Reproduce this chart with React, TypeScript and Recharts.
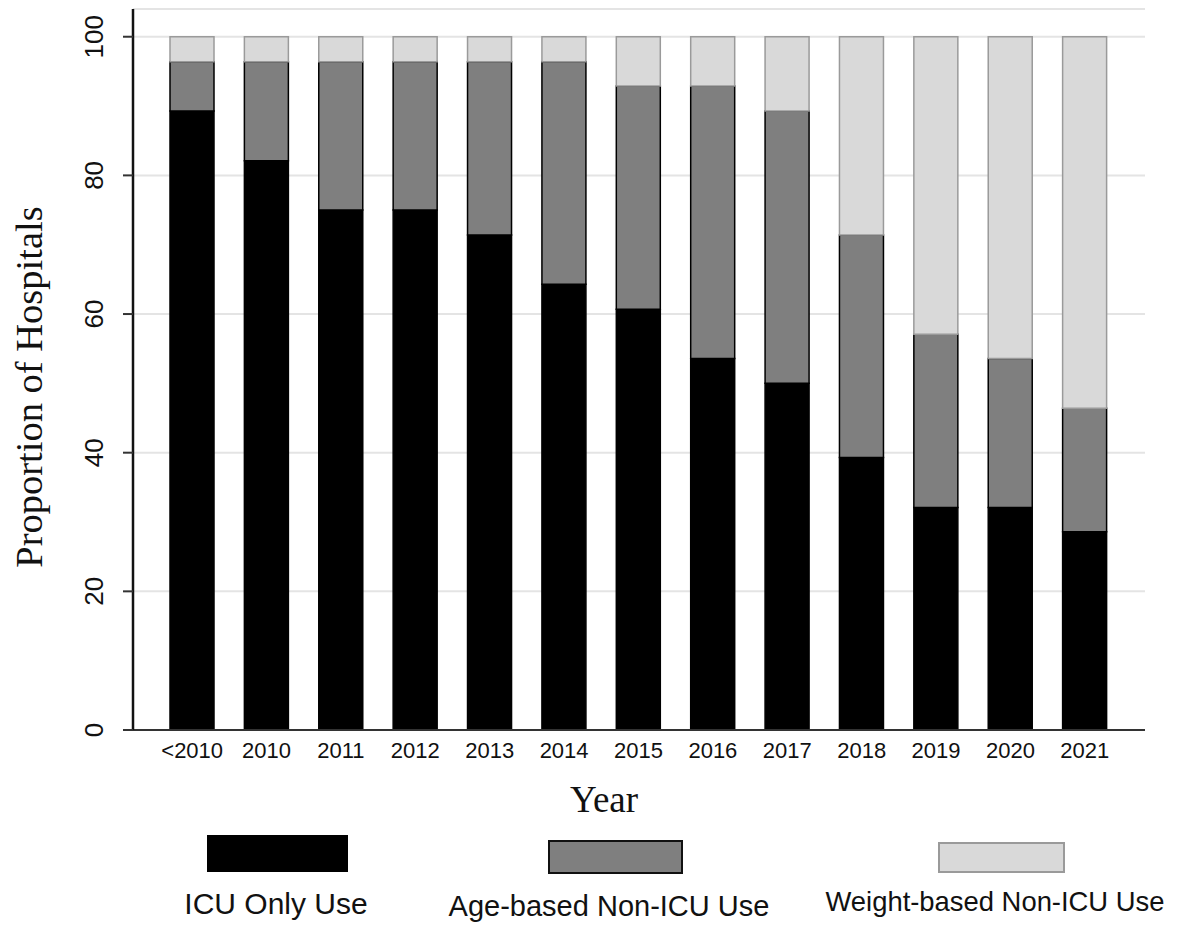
import { Bar, BarChart, CartesianGrid, Label, XAxis, YAxis } from "recharts";

const years = ["<2010", "2010", "2011", "2012", "2013", "2014", "2015", "2016", "2017", "2018", "2019", "2020", "2021"];
const icuOnly = [89.3, 82.1, 75.0, 75.0, 71.4, 64.3, 60.7, 53.6, 50.0, 39.3, 32.1, 32.1, 28.6];
const ageBased = [7.1, 14.3, 21.4, 21.4, 25.0, 32.1, 32.2, 39.3, 39.3, 32.1, 25.0, 21.5, 17.8];
const weightBased = [3.6, 3.6, 3.6, 3.6, 3.6, 3.6, 7.1, 7.1, 10.7, 28.6, 42.9, 46.4, 53.6];
const yTicks = [0, 20, 40, 60, 80, 100];
const seriesNames = ["ICU Only Use", "Age-based Non-ICU Use", "Weight-based Non-ICU Use"];

const data = years.map((year, i) => ({
  year,
  icu: icuOnly[i],
  age: ageBased[i],
  weight: weightBased[i]
}));

const SANS = "'Liberation Sans', Arial, sans-serif";
const SERIF = "'Liberation Serif', 'Times New Roman', serif";

const legendBoxes = [
  { left: 207, top: 835, width: 141, height: 37, fill: "#000000", stroke: "#000000", textX: 276, textTop: 889, fontSize: 30 },
  { left: 548, top: 840, width: 135, height: 34, fill: "#7f7f7f", stroke: "#111111", textX: 609, textTop: 892, fontSize: 29 },
  { left: 938, top: 842, width: 127, height: 31, fill: "#d9d9d9", stroke: "#9a9a9a", textX: 995, textTop: 888, fontSize: 27.4 }
];

function YTick({ y, payload }: any) {
  const cx = 94;
  return (
    <text
      x={cx}
      y={y}
      transform={`rotate(-90 ${cx} ${y})`}
      textAnchor="middle"
      dominantBaseline="central"
      fontFamily={SANS}
      fontSize={26}
      fill="#111"
    >
      {payload.value}
    </text>
  );
}

function XTick({ x, payload }: any) {
  return (
    <text x={x} y={758} textAnchor="middle" fontFamily={SANS} fontSize={22} fill="#111">
      {payload.value}
    </text>
  );
}

export default function App() {
  return (
    <div style={{ position: "absolute", left: 0, top: 0, width: 1180, height: 927, background: "#fff" }}>
      <BarChart
        width={1180}
        height={927}
        data={data}
        margin={{ top: 9, right: 35, bottom: 167, left: 73 }}
        barSize={44}
      >
        <CartesianGrid vertical={false} stroke="#e4e4e4" strokeWidth={2} />
        <XAxis
          dataKey="year"
          padding={{ left: 22, right: 23 }}
          height={30}
          tickLine={false}
          tickSize={0}
          tick={<XTick />}
          axisLine={{ stroke: "#333", strokeWidth: 2 }}
          interval={0}
        >
          <Label
            content={() => (
              <text x={604} y={812} textAnchor="middle" fontFamily={SERIF} fontSize={37} fill="#111">
                Year
              </text>
            )}
          />
        </XAxis>
        <XAxis
          xAxisId="top"
          dataKey="year"
          orientation="top"
          height={0}
          tick={false}
          tickLine={false}
          axisLine={{ stroke: "#111", strokeWidth: 2.5 }}
        />
        <YAxis
          domain={[0, 104]}
          ticks={yTicks}
          width={60}
          tickSize={10}
          tickLine={{ stroke: "#333", strokeWidth: 2 }}
          tick={<YTick />}
          axisLine={{ stroke: "#111", strokeWidth: 2.5 }}
        >
          <Label
            content={() => (
              <text
                x={29}
                y={387}
                transform="rotate(-90 29 387)"
                textAnchor="middle"
                dominantBaseline="central"
                fontFamily={SERIF}
                fontSize={38.5}
                fill="#111"
              >
                Proportion of Hospitals
              </text>
            )}
          />
        </YAxis>
        <YAxis
          yAxisId="right"
          orientation="right"
          domain={[0, 104]}
          width={0}
          tick={false}
          tickLine={false}
          axisLine={{ stroke: "#222", strokeWidth: 2.5 }}
        />
        <Bar dataKey="icu" name={seriesNames[0]} stackId="a" fill="#000000" stroke="#000000" strokeWidth={1.5} isAnimationActive={false} />
        <Bar dataKey="age" name={seriesNames[1]} stackId="a" fill="#7f7f7f" stroke="#000000" strokeWidth={1.5} isAnimationActive={false} />
        <Bar dataKey="weight" name={seriesNames[2]} stackId="a" fill="#d9d9d9" stroke="#9a9a9a" strokeWidth={1.5} isAnimationActive={false} />
      </BarChart>

      {legendBoxes.map((b, i) => (
        <div key={seriesNames[i]}>
          <div
            style={{
              position: "absolute",
              left: b.left,
              top: b.top,
              width: b.width,
              height: b.height,
              boxSizing: "border-box",
              background: b.fill,
              border: `2px solid ${b.stroke}`
            }}
          />
          <div
            style={{
              position: "absolute",
              left: b.textX - 200,
              width: 400,
              top: b.textTop,
              textAlign: "center",
              fontFamily: SANS,
              fontSize: b.fontSize,
              color: "#111",
              lineHeight: 1
            }}
          >
            {seriesNames[i]}
          </div>
        </div>
      ))}
    </div>
  );
}
